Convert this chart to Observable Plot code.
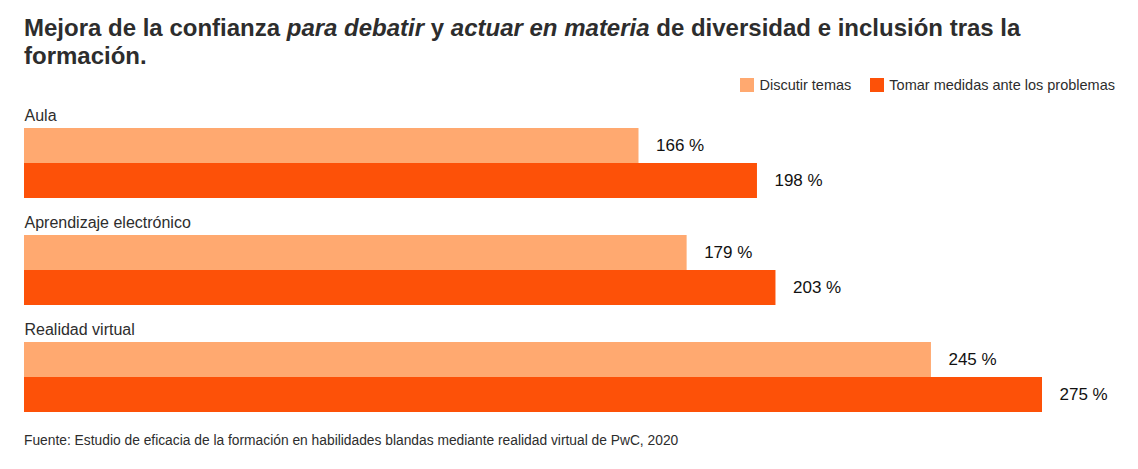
<!DOCTYPE html>
<html>
<head>
<meta charset="utf-8">
<script src="https://cdn.jsdelivr.net/npm/d3@7"></script>
<script src="https://cdn.jsdelivr.net/npm/@observablehq/plot@0.6"></script>
<style>
  body { margin: 0; background: #fff; font-family: "Liberation Sans", Arial, sans-serif; color: #2d2d2d; }
  #wrap { width: 1138px; position: relative; }
  h1 { margin: 14px 0 0 24px; font-size: 24px; line-height: 28px; font-weight: bold; color: #2d2d2d; width: 1080px; }
  h1 em { font-weight: bold; }
  .legend { height: 16px; padding-top: 7px; display: flex; justify-content: flex-end; align-items: center; padding-right: 23px; font-size: 14.5px; color: #2d2d2d; }
  .legend span.item { display: flex; align-items: center; margin-left: 19px; }
  .legend span.sw { width: 14px; height: 14px; display: inline-block; margin-right: 5px; }
  .caption { margin: 21px 0 0 24px; font-size: 13.8px; line-height: 15px; color: #2d2d2d; }
</style>
</head>
<body>
<div id="wrap">
  <h1>Mejora de la confianza <em>para debatir</em> y <em>actuar en materia</em> de diversidad e inclusión tras la formación.</h1>
  <div class="legend" id="legend"></div>
  <div id="chart"></div>
  <div class="caption">Fuente: Estudio de eficacia de la formación en habilidades blandas mediante realidad virtual de PwC, 2020</div>
</div>
<script>
// Training formats and the two measured outcomes
const categories = ["Aula", "Aprendizaje electrónico", "Realidad virtual"];
const series = ["Discutir temas", "Tomar medidas ante los problemas"];
const colors = ["#ffa970", "#fd5108"];
const discutir = [166, 179, 245];
const tomar = [198, 203, 275];

const rows = [];
categories.forEach((c, i) => {
  rows.push({category: c, series: series[0], value: discutir[i]});
  rows.push({category: c, series: series[1], value: tomar[i]});
});
// an empty band above each pair of bars holds the group heading
const labelRow = " ";
const heads = categories.map(c => ({category: c}));

// Legend
const legend = document.getElementById("legend");
series.forEach((s, i) => {
  const item = document.createElement("span");
  item.className = "item";
  const sw = document.createElement("span");
  sw.className = "sw";
  sw.style.background = colors[i];
  item.appendChild(sw);
  item.appendChild(document.createTextNode(s));
  legend.appendChild(item);
});

const chart = Plot.plot({
  width: 1138,
  height: 319,
  marginLeft: 24,
  marginRight: 96,
  marginTop: 0,
  marginBottom: 0,
  style: {fontFamily: "Liberation Sans, Arial, sans-serif", background: "#fff"},
  x: {domain: [0, 275], axis: null},
  y: {domain: [labelRow, ...series], padding: 0, axis: null},
  fy: {domain: categories, paddingInner: 0.019, paddingOuter: 0, axis: null},
  color: {domain: series, range: colors},
  marks: [
    Plot.barX(rows, {x: "value", y: "series", fy: "category", fill: "series"}),
    Plot.text(rows, {x: "value", y: "series", fy: "category", text: d => `${d.value} %`,
      textAnchor: "start", dx: 17, fontSize: 17, fill: "#111"}),
    Plot.text(heads, {x: 0, y: () => labelRow, fy: "category", text: "category",
      textAnchor: "start", dy: 5, fontSize: 16, fill: "#2d2d2d"})
  ]
});
document.getElementById("chart").appendChild(chart);
</script>
</body>
</html>
